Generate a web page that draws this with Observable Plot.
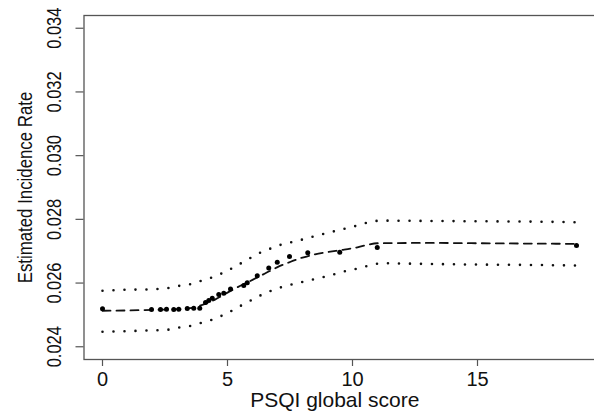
<!DOCTYPE html>
<html>
<head>
<meta charset="utf-8">
<script src="https://cdn.jsdelivr.net/npm/d3@7"></script>
<script src="https://cdn.jsdelivr.net/npm/@observablehq/plot@0.6"></script>
<style>
  html, body { margin: 0; padding: 0; background: #fff; overflow: hidden; }
  #chart svg { display: block; }
</style>
</head>
<body>
<div id="chart"></div>
<script>
// ---- data ----
const xTicks = [0, 5, 10, 15];
const yTicks = [0.024, 0.026, 0.028, 0.030, 0.032, 0.034];
const xTitle = "PSQI global score";
const yTitle = "Estimated Incidence Rate";

const pointX = [0, 1.96, 2.32, 2.56, 2.85, 3.05, 3.39, 3.65, 3.89, 4.12, 4.25, 4.39, 4.65, 4.85, 5.12, 5.65, 5.79, 6.19, 6.65, 6.99, 7.48, 8.21, 9.49, 10.99, 18.96];
const pointY = [0.02519, 0.02517, 0.02517, 0.02518, 0.02517, 0.02518, 0.02520, 0.02521, 0.02521, 0.02539, 0.02545, 0.02552, 0.02564, 0.02568, 0.02581, 0.02592, 0.02601, 0.02623, 0.02647, 0.02665, 0.02683, 0.02695, 0.02697, 0.02712, 0.02718];

const estX = [0, 1, 2, 3, 3.5, 3.9, 4.5, 5, 5.4, 6, 6.5, 7, 7.5, 8, 8.5, 9, 9.5, 10, 10.5, 11, 13, 15, 17, 19];
const estY = [0.02513, 0.02514, 0.02516, 0.02518, 0.02521, 0.02529, 0.02548, 0.02570, 0.02587, 0.02610, 0.02630, 0.02650, 0.02666, 0.02680, 0.02690, 0.02697, 0.02703, 0.02709, 0.02718, 0.02725, 0.02726, 0.02725, 0.02724, 0.02723];

const upperX = [0, 0.92, 1.81, 2.69, 3.12, 3.56, 3.99, 4.39, 4.76, 5.12, 5.49, 5.85, 6.21, 6.59, 6.99, 7.39, 7.81, 8.25, 8.67, 9.09, 9.49, 9.92, 10.35, 10.76, 11.19, 13, 15, 17, 19];
const upperY = [0.02576, 0.02579, 0.02580, 0.02585, 0.02592, 0.02597, 0.02608, 0.02618, 0.02630, 0.02644, 0.02660, 0.02676, 0.02692, 0.02704, 0.02717, 0.02725, 0.02733, 0.02742, 0.02751, 0.02759, 0.02767, 0.02775, 0.02784, 0.02793, 0.02796, 0.02795, 0.02794, 0.02793, 0.02791];

const lowerX = [0, 0.92, 1.81, 2.69, 3.12, 3.56, 3.99, 4.39, 4.76, 5.12, 5.49, 5.85, 6.21, 6.59, 6.99, 7.39, 7.81, 8.25, 8.67, 9.09, 9.52, 9.95, 10.39, 10.79, 11.23, 13, 15, 17, 19];
const lowerY = [0.02447, 0.02449, 0.02451, 0.02454, 0.02461, 0.02466, 0.02476, 0.02485, 0.02497, 0.02511, 0.02527, 0.02542, 0.02557, 0.02571, 0.02583, 0.02592, 0.02600, 0.02608, 0.02616, 0.02623, 0.02634, 0.02641, 0.02649, 0.02658, 0.02662, 0.02660, 0.02658, 0.02657, 0.02655];

// ---- build tables ----
const zipXY = (xs, ys) => xs.map((x, i) => ({x, y: ys[i]}));
const points = zipXY(pointX, pointY);
const est = zipXY(estX, estY);
const upper = zipXY(upperX, upperY);
const lower = zipXY(lowerX, lowerY);

const sans = "'Liberation Sans', Arial, Helvetica, sans-serif";
const axisColor = "#555";

const chart = Plot.plot({
  width: 594,
  height: 419,
  marginLeft: 83.5,
  marginRight: -3,
  marginTop: 15,
  marginBottom: 60,
  x: {domain: [-0.74, 19.8]},
  y: {domain: [0.0236, 0.0344]},
  style: {fontFamily: sans, background: "#fff"},
  marks: [
    Plot.frame({stroke: axisColor, strokeWidth: 1.3}),
    Plot.axisX({ticks: xTicks, tickSize: 7, tickPadding: 5, fontSize: 20, label: null, stroke: axisColor, strokeWidth: 1.2, fill: "#111", fontFamily: sans}),
    Plot.axisY({ticks: yTicks, tickSize: 8, tickFormat: () => "", label: null, stroke: axisColor, strokeWidth: 1.2}),
    Plot.text(yTicks, {frameAnchor: "left", y: d => d, text: d3.format(".3f"), rotate: -90, dx: -29, lineAnchor: "middle", textAnchor: "middle", fontSize: 20, fill: "#111", className: "ynarrow"}),
    Plot.text([yTitle], {frameAnchor: "left", text: d => d, rotate: -90, dx: -58.5, lineAnchor: "middle", textAnchor: "middle", fontSize: 20.5, fill: "#111", className: "ynarrow"}),
    Plot.text([xTitle], {frameAnchor: "bottom", text: d => d, dy: 40.5, dx: -6, lineAnchor: "middle", textAnchor: "middle", fontSize: 21, fill: "#111"}),
    Plot.line(upper, {x: "x", y: "y", stroke: "#111", strokeWidth: 2.6, strokeDasharray: "0,11", strokeLinecap: "round", curve: "monotone-x"}),
    Plot.line(lower, {x: "x", y: "y", stroke: "#111", strokeWidth: 2.6, strokeDasharray: "0,11", strokeLinecap: "round", curve: "monotone-x"}),
    Plot.line(est, {x: "x", y: "y", stroke: "#111", strokeWidth: 1.8, strokeDasharray: "8,6", curve: "monotone-x"}),
    Plot.dot(points, {x: "x", y: "y", r: 2.5, fill: "#000", stroke: "none"})
  ]
});
document.getElementById("chart").appendChild(chart);

// condense the rotated y-axis text (reference uses a narrow face)
chart.querySelectorAll("g.ynarrow text").forEach(t => {
  const len = t.getComputedTextLength();
  t.setAttribute("textLength", (len * 0.82).toFixed(1));
  t.setAttribute("lengthAdjust", "spacingAndGlyphs");
});
</script>
</body>
</html>
